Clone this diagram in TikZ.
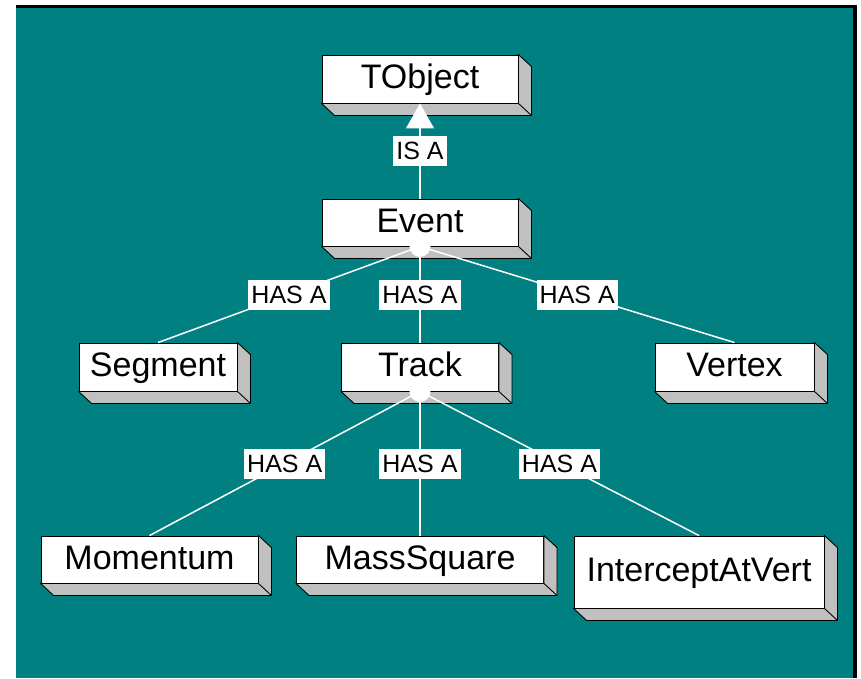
\documentclass[tikz,border=0pt]{standalone}
\usepackage{fontspec}
\setmainfont{Liberation Sans}
\usetikzlibrary{arrows.meta}
\definecolor{tealbg}{RGB}{0,128,128}
\definecolor{sidegray}{RGB}{192,192,192}
\tikzset{
  cls/.style={draw=black, line width=0.9pt, fill=white, inner sep=0pt,
    font=\fontsize{34}{40}\selectfont, text height=24pt, text depth=5pt},
  sideface/.style={draw=black, fill=sidegray, line width=0.9pt, line join=round},
  conn/.style={draw=white, line width=1.5pt},
  lab/.style={fill=white, inner xsep=3pt, inner ysep=0pt, minimum height=30pt,
    font=\fontsize{25}{30}\selectfont, text=black},
  dotnode/.style={circle, fill=white, minimum size=21pt, inner sep=0pt},
}
\begin{document}
\begin{tikzpicture}[x=1pt, y=-1pt]
\useasboundingbox (0,0) rectangle (861,678);
\fill[white] (0,0) rectangle (861,678);
\fill[black] (16,5) rectangle (857,678);
\fill[tealbg] (16,8) rectangle (853,678);

% class boxes (front faces)
\node[cls, minimum width=196pt, minimum height=48pt] (tobj)   at (420,79)    {TObject};
\node[cls, minimum width=196pt, minimum height=47pt] (event)  at (420,222.5) {Event};
\node[cls, minimum width=158pt, minimum height=48pt] (segment) at (158,367)  {Segment};
\node[cls, minimum width=157pt, minimum height=48pt] (track)  at (420,367)   {Track};
\node[cls, minimum width=159pt, minimum height=48pt] (vertex) at (734.5,367) {Vertex};
\node[cls, minimum width=217pt, minimum height=47pt] (momentum) at (149.5,559.5) {Momentum};
\node[cls, minimum width=247pt, minimum height=47pt] (mass)   at (420,559.5) {MassSquare};
\node[cls, minimum width=250pt, minimum height=72pt] (icept)  at (699,572)   {InterceptAtVert};

% 3D side faces
\foreach \n in {tobj,event,segment,track,vertex,momentum,mass,icept}{
  \draw[sideface] (\n.north east) -- ([shift={(13,12)}]\n.north east)
     -- ([shift={(13,12)}]\n.south east) -- ([shift={(13,12)}]\n.south west)
     -- (\n.south west) -- (\n.south east) -- cycle;
  \draw[sideface] (\n.south east) -- ([shift={(13,12)}]\n.south east);
}

% junction dots
\node[dotnode] (edot) at (event.south) {};
\node[dotnode] (tdot) at (track.south) {};

% inheritance
\draw[conn, -{Triangle[length=25pt,width=28pt,fill=white]}] (event.north) -- (tobj.south)
  node[lab, midway] (isa) {IS A};

% aggregation
\draw[conn] (edot.center) -- (segment.north) node[lab, midway] (h1) {HAS A};
\draw[conn] (edot.center) -- (track.north)   node[lab, midway] (h2) {HAS A};
\draw[conn] (edot.center) -- (vertex.north)  node[lab, midway] (h3) {HAS A};
\draw[conn] (tdot.center) -- (momentum.north) node[lab, midway] (h4) {HAS A};
\draw[conn] (tdot.center) -- (mass.north)     node[lab, midway] (h5) {HAS A};
\draw[conn] (tdot.center) -- (icept.north)    node[lab, midway] (h6) {HAS A};
\end{tikzpicture}
\end{document}
